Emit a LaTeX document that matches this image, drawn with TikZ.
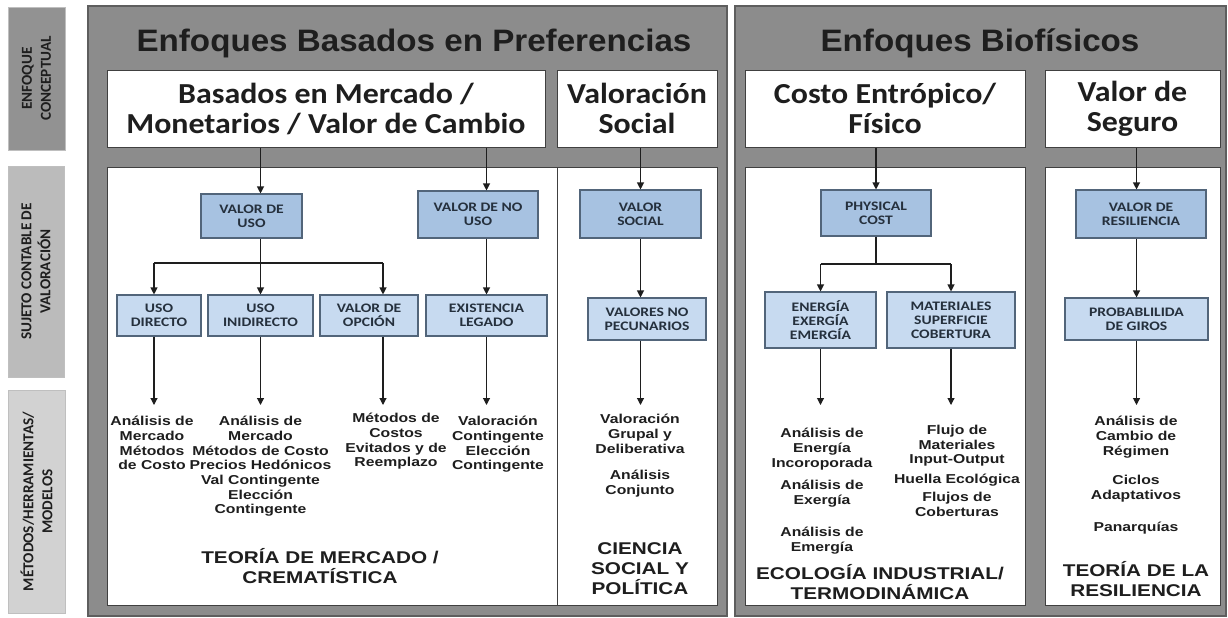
\documentclass[tikz,border=0pt]{standalone}
\usepackage{fontspec}
\usetikzlibrary{arrows.meta}
\newfontfamily\fntttl{Liberation Sans}[FakeStretch=1.22]
\newfontfamily\fntbig{Liberation Sans}[FakeStretch=1.07]
\newfontfamily\fnthdr{Carlito}[FakeStretch=1.1]
\newfontfamily\fntbox{Carlito}[FakeStretch=1.2]
\newfontfamily\fntside{Carlito}
\definecolor{panel}{HTML}{8C8C8C}
\definecolor{panelb}{HTML}{5E5E5E}
\definecolor{sideA}{HTML}{929292}
\definecolor{sideB}{HTML}{BBBBBB}
\definecolor{sideC}{HTML}{D2D2D2}
\definecolor{blueA}{HTML}{A7C2E1}
\definecolor{blueB}{HTML}{C7DAF0}
\definecolor{blueE}{HTML}{52657A}
\definecolor{ink}{HTML}{1E1E1E}
\definecolor{boxink}{HTML}{25303D}
\begin{document}
\begin{tikzpicture}[x=1pt,y=-1pt,
  gpanel/.style={draw=panelb,line width=1.5pt,fill=panel},
  wpanel/.style={draw=black!75,line width=1pt,fill=white},
  wbox/.style={draw=black!75,line width=1pt,fill=white,inner sep=0pt,align=center,text=ink,
    minimum height=77pt,font=\fnthdr\bfseries\fontsize{29}{30}\selectfont},
  side/.style={draw=black!25,line width=0.8pt,inner sep=0pt},
  sidetxt/.style={rotate=90,align=center,text=ink,font=\fntside\bfseries\fontsize{15.2}{19}\selectfont},
  bbox/.style={draw=blueE,line width=1.1pt,inner sep=0pt,align=center,text=boxink,
    font=\fntbox\bfseries\fontsize{13}{14}\selectfont},
  bup/.style={bbox,fill=blueA},
  blow/.style={bbox,fill=blueB},
  conn/.style={draw=ink,line width=1.1pt},
  arr/.style={conn,-{Triangle[width=7pt,length=7pt]}},
  meth/.style={anchor=north,inner sep=0pt,align=center,text=ink,
    font=\fntttl\bfseries\fontsize{12.9}{14.7}\selectfont,execute at begin node={\rule{0pt}{10pt}}},
  theory/.style={anchor=north,inner sep=0pt,align=center,text=ink,
    font=\fntttl\bfseries\fontsize{17}{20}\selectfont,execute at begin node={\rule{0pt}{16pt}}},
  ttl/.style={anchor=base,inner sep=0pt,text=ink,font=\fntbig\bfseries\fontsize{31}{33}\selectfont}
]
\useasboundingbox (0,0) rectangle (1228,618);
\fill[white] (0,0) rectangle (1228,618);

% sidebar
\node[side,fill=sideA,minimum width=57pt,minimum height=143pt] (s1) at (36.5,78.5) {};
\node[sidetxt] (s1t) at (s1) {ENFOQUE\\CONCEPTUAL};
\node[side,fill=sideB,minimum width=56pt,minimum height=211pt] (s2) at (36,271.5) {};
\node[sidetxt] (s2t) at (s2) {SUJETO CONTABLE DE\\VALORACIÓN};
\node[side,fill=sideC,minimum width=57pt,minimum height=223pt] (s3) at (36.5,501.5) {};
\node[sidetxt] (s3t) at (s3) {MÉTODOS/HERRAMIENTAS/\\MODELOS};

% panels
\draw[gpanel] (88,6) rectangle (727,616);
\draw[gpanel] (735,6) rectangle (1226,616);
\draw[wpanel] (107,167) rectangle (557,605);
\draw[wpanel] (557,167) rectangle (717,605);
\draw[wpanel] (745,167) rectangle (1025,605);
\draw[wpanel] (1045,167) rectangle (1220,605);

% titles
\node[ttl] (T1) at (414,52) {Enfoques Basados en Preferencias};
\node[ttl] (T2) at (980,52) {Enfoques Biofísicos};

% header boxes
\node[wbox,minimum width=438pt] (h1) at (326,108.5) {Basados en Mercado /\\Monetarios / Valor de Cambio};
\node[wbox,minimum width=160pt] (h2) at (637,108.5) {Valoración\\Social};
\node[wbox,minimum width=280pt] (h3) at (885,108.5) {Costo Entrópico/\\Físico};
\node[wbox,minimum width=175pt] (h4) at (1132.5,108.5) {Valor de\\Seguro};

% blue boxes
\node[bup,minimum width=101pt,minimum height=44pt] (vuso) at (251.5,216) {VALOR DE\\USO};
\node[bup,minimum width=120pt,minimum height=47pt] (vnouso) at (478,214.5) {VALOR DE NO\\USO};
\node[blow,minimum width=84pt,minimum height=41pt] (udir) at (159,315.5) {USO\\DIRECTO};
\node[blow,minimum width=105pt,minimum height=41pt] (uind) at (260.5,315.5) {USO\\INIDIRECTO};
\node[blow,minimum width=98pt,minimum height=41pt] (vopc) at (369,315.5) {VALOR DE\\OPCIÓN};
\node[blow,minimum width=121pt,minimum height=41pt] (exist) at (486.5,315.5) {EXISTENCIA\\LEGADO};
\node[bup,minimum width=121pt,minimum height=48pt] (vsoc) at (640.5,214) {VALOR\\SOCIAL};
\node[blow,minimum width=118pt,minimum height=42pt] (vnpec) at (647,319) {VALORES NO\\PECUNARIOS};
\node[bup,minimum width=110pt,minimum height=46pt] (pcost) at (876,213) {PHYSICAL\\COST};
\node[blow,minimum width=111pt,minimum height=56pt] (energ) at (820.5,320) {ENERGÍA\\EXERGÍA\\EMERGÍA};
\node[blow,minimum width=128pt,minimum height=56pt] (mater) at (951,320) {MATERIALES\\SUPERFICIE\\COBERTURA};
\node[bup,minimum width=130pt,minimum height=48pt] (vres) at (1141,214) {VALOR DE\\RESILIENCIA};
\node[blow,minimum width=143pt,minimum height=42pt] (prob) at (1136.5,319) {PROBABLILIDA\\DE GIROS};

% method texts
\node[meth] (m1) at (152,416) {Análisis de\\Mercado\\Métodos\\de Costo};
\node[meth] (m2) at (260.5,416) {Análisis de\\Mercado\\Métodos de Costo\\Precios Hedónicos\\Val Contingente\\Elección\\Contingente};
\node[meth] (m3) at (396,413) {Métodos de\\Costos\\Evitados y de\\Reemplazo};
\node[meth] (m4) at (498,416) {Valoración\\Contingente\\Elección\\Contingente};
\node[meth] (m5a) at (640,414) {Valoración\\Grupal y\\Deliberativa};
\node[meth] (m5b) at (640,470) {Análisis\\Conjunto};
\node[meth] (m6a) at (822,428) {Análisis de\\Energía\\Incoroporada};
\node[meth] (m6b) at (822,480) {Análisis de\\Exergía};
\node[meth] (m6c) at (822,527) {Análisis de\\Emergía};
\node[meth] (m7a) at (957,425) {Flujo de\\Materiales\\Input-Output};
\node[meth] (m7b) at (957,473) {Huella Ecológica};
\node[meth] (m7c) at (957,492) {Flujos de\\Coberturas};
\node[meth] (m8a) at (1136,416) {Análisis de\\Cambio de\\Régimen};
\node[meth] (m8b) at (1136,475) {Ciclos\\Adaptativos};
\node[meth] (m8c) at (1136,521) {Panarquías};

% theory labels
\node[theory] (t1) at (320,548) {TEORÍA DE MERCADO /\\CREMATÍSTICA};
\node[theory] (t2) at (640,542) {CIENCIA\\SOCIAL Y\\POLÍTICA};
\node[theory] (t3) at (880,564) {ECOLOGÍA INDUSTRIAL/\\TERMODINÁMICA};
\node[theory] (t4) at (1136,561) {TEORÍA DE LA\\RESILIENCIA};

% helper coordinates
\coordinate (mY) at (0,405);
\coordinate (bL) at (154,263);
\coordinate (bR) at (383,263);
\coordinate (yB) at (0,264);

% connectors: market
\draw[arr] (h1.south -| uind.north) -- (vuso.north -| uind.north);
\draw[arr] (h1.south -| exist.north) -- (vnouso.north -| exist.north);
\draw[arr] (vnouso.south -| exist.north) -- (exist.north);
\draw[arr] (vuso.south -| uind.north) -- (uind.north);
\draw[conn] (bL) -- (bR);
\draw[arr] (bL) -- (bL |- udir.north);
\draw[arr] (bR) -- (bR |- vopc.north);
\draw[arr] (udir.south -| bL) -- (bL |- mY);
\draw[arr] (uind.south) -- (uind.south |- mY);
\draw[arr] (vopc.south -| bR) -- (bR |- mY);
\draw[arr] (exist.south) -- (exist.south |- mY);
% social
\draw[arr] (h2.south -| vsoc.north) -- (vsoc.north);
\draw[arr] (vsoc.south) -- (vsoc.south |- vnpec.north);
\draw[arr] (vnpec.south -| vsoc.south) -- (vsoc.south |- mY);
% physical
\draw[arr] (h3.south -| pcost.north) -- (pcost.north);
\draw[conn] (pcost.south) -- (pcost.south |- yB);
\draw[conn] (energ.north |- yB) -- (mater.north |- yB);
\draw[arr] (energ.north |- yB) -- (energ.north);
\draw[arr] (mater.north |- yB) -- (mater.north);
\draw[arr] (energ.south) -- (energ.south |- mY);
\draw[arr] (mater.south) -- (mater.south |- mY);
% resilience
\draw[arr] (h4.south -| prob.north) -- (vres.north -| prob.north);
\draw[arr] (vres.south -| prob.north) -- (prob.north);
\draw[arr] (prob.south) -- (prob.south |- mY);
\end{tikzpicture}
\end{document}
